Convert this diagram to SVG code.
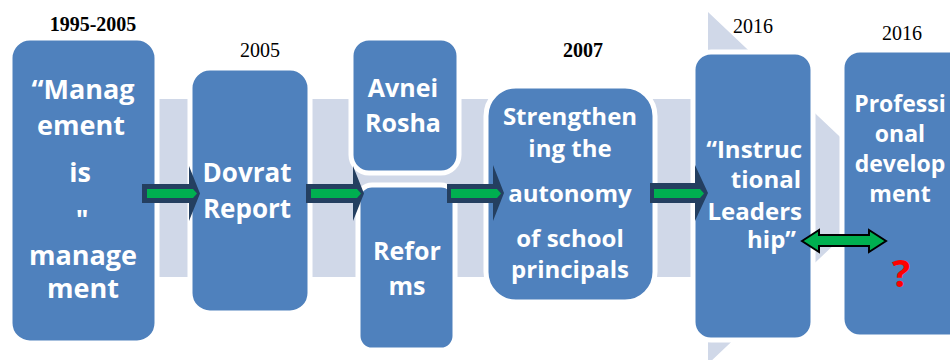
<svg xmlns="http://www.w3.org/2000/svg" width="950" height="360" viewBox="0 0 950 360">
  <defs>
    <style>
      .band { fill: #D0D8E8; }
      .box { fill: #4F81BD; stroke: #FFFFFF; stroke-width: 5; }
      .lbl { font-family: "Open Sans", "Liberation Sans", sans-serif; font-weight: 700; fill: #FFFFFF; text-anchor: middle; }
      .year { font-family: "Liberation Serif", "Times New Roman", serif; font-size: 20px; fill: #000000; text-anchor: middle; }
      .bold { font-weight: 700; }
      .navy { fill: #243F60; }
      .green { fill: #00B050; }
    </style>
  </defs>

  <!-- background timeline arrow -->
  <g id="timeline-band">
    <polygon class="band" points="150,99 708,99 708,12 894,188 708,364 708,277 150,277"/>
  </g>

  <!-- year labels -->
  <g id="years">
    <text class="year bold" x="93" y="31">1995-2005</text>
    <text class="year" x="260" y="57">2005</text>
    <text class="year bold" x="583" y="57">2007</text>
    <text class="year" x="753" y="33">2016</text>
    <text class="year" x="902" y="40">2016</text>
  </g>

  <g id="node-management">
    <rect class="box" x="10" y="38" width="147" height="305" rx="20"/>
    <text class="lbl" font-size="27"><tspan x="83" y="99">“Manag</tspan><tspan x="81" y="135">ement</tspan><tspan x="80" y="182">is</tspan><tspan x="82" y="229">"</tspan><tspan x="83" y="265">manage</tspan><tspan x="83" y="298">ment</tspan></text>
  </g>

  <g id="node-dovrat">
    <rect class="box" x="190" y="68" width="120" height="245" rx="20"/>
    <text class="lbl" font-size="26"><tspan x="247" y="182">Dovrat</tspan><tspan x="247" y="218">Report</tspan></text>
  </g>

  <g id="node-avnei">
    <rect class="box" x="351" y="38" width="108" height="135" rx="18"/>
    <text class="lbl" font-size="25"><tspan x="403" y="97">Avnei</tspan><tspan x="403" y="132">Rosha</tspan></text>
  </g>

  <g id="node-reforms">
    <rect class="box" x="358" y="185" width="97" height="165" rx="14"/>
    <text class="lbl" font-size="25"><tspan x="407" y="260">Refor</tspan><tspan x="407" y="295">ms</tspan></text>
  </g>

  <g id="node-autonomy">
    <rect class="box" x="486" y="86" width="169" height="216" rx="30"/>
    <text class="lbl" font-size="24"><tspan x="570" y="125">Strengthen</tspan><tspan x="570" y="157">ing the</tspan><tspan x="570" y="202">autonomy</tspan><tspan x="570" y="247">of school</tspan><tspan x="570" y="278">principals</tspan></text>
  </g>

  <g id="node-instructional">
    <rect class="box" x="693" y="52" width="120" height="288" rx="18"/>
    <text class="lbl" font-size="24" style="text-anchor:end"><tspan x="802" y="158">“Instruc</tspan><tspan x="801" y="188">tional</tspan><tspan x="802" y="220">Leaders</tspan><tspan x="796" y="248">hip”</tspan></text>
  </g>

  <g id="node-professional">
    <rect class="box" x="842" y="50" width="130" height="287" rx="18"/>
    <text class="lbl" font-size="23"><tspan x="900" y="112">Professi</tspan><tspan x="900" y="142">onal</tspan><tspan x="900" y="172">develop</tspan><tspan x="900" y="202">ment</tspan></text>
    <text x="901" y="287" font-family="Open Sans, Liberation Sans, sans-serif" font-weight="700" font-size="38" fill="#FF0000" text-anchor="middle">?</text>
  </g>

  <!-- connectors -->
  <g id="connectors">
    <g>
      <polygon class="navy" points="142,184 189,184 189,166 200,193.5 189,221 189,203 142,203"/>
      <path class="green" d="M147,189 H193 L197,193.5 L193,198 H147 Z"/>
    </g>
    <g>
      <polygon class="navy" points="306,184 353,184 353,166 364,193.5 353,221 353,203 306,203"/>
      <path class="green" d="M311,189 H357 L361,193.5 L357,198 H311 Z"/>
    </g>
    <g>
      <polygon class="navy" points="447,184 493,184 493,165 504,193 493,221 493,203 447,203"/>
      <path class="green" d="M451,189 H497 L501,193.5 L497,198 H451 Z"/>
    </g>
    <g>
      <polygon class="navy" points="650,183 695,183 695,165 708,193 695,221 695,203 650,203"/>
      <path class="green" d="M654,189 H700 L704,193.5 L700,198 H654 Z"/>
    </g>
    <polygon points="802,241 819,230 819,235 869,235 869,230 886,241 869,252 869,246 819,246 819,252" fill="#00B050" stroke="#000000" stroke-width="2" stroke-linejoin="miter"/>
  </g>
</svg>
